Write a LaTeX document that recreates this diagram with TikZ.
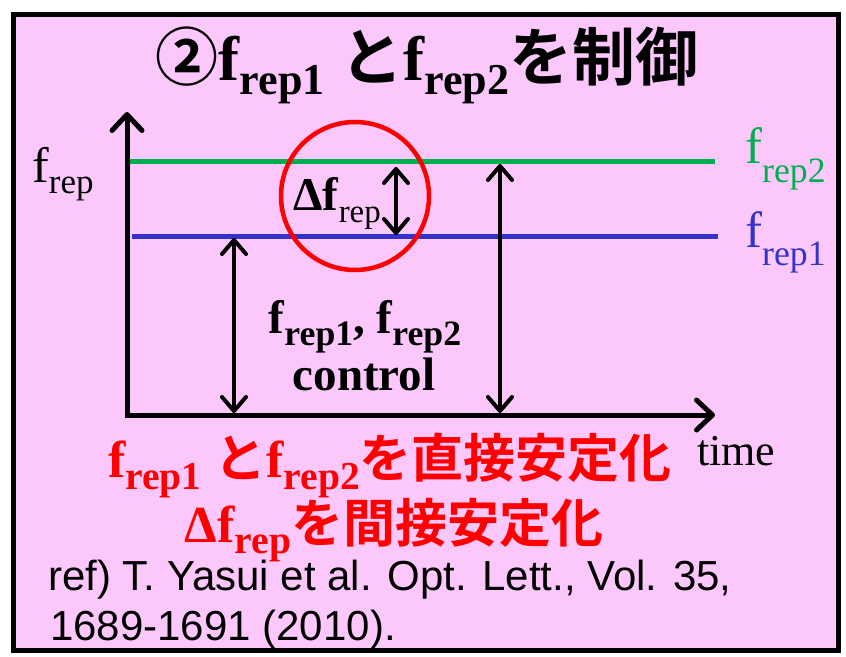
\documentclass[tikz,border=0pt]{standalone}
\usepackage{fontspec}
\setmainfont{Liberation Serif}
\newfontfamily\jpfont{Noto Sans CJK JP}[BoldFont=* Bold]
\newfontfamily\reffont{Liberation Sans}
\usetikzlibrary{arrows.meta}
\definecolor{slidepink}{RGB}{252,200,252}
\definecolor{repgreen}{RGB}{0,176,80}
\definecolor{repblue}{RGB}{51,51,204}
% subscript: optional drop (em), then text
\newcommand\rsub[2][0.25]{\raisebox{-#1em}{\scalebox{0.7}{#2}}}
\newcommand\bsub[2][0.25]{\raisebox{-#1em}{\scalebox{0.76}{#2}}}

\begin{document}
\begin{tikzpicture}[x=1pt, y=-1pt,
  axis/.style={line width=5pt, {Straight Barb[length=16pt,width=30pt,round]}-{Straight Barb[length=16pt,width=30pt,round]}},
  span/.style={line width=4pt, {Straight Barb[length=14pt,width=24pt,round]}-{Straight Barb[length=14pt,width=24pt,round]}},
  level/.style={line width=5pt},
  lbl/.style={inner sep=0pt, anchor=base},
]
  \useasboundingbox (0,0) rectangle (846,656);
  \fill[white] (0,0) rectangle (846,656);
  \draw[line width=5pt, fill=slidepink] (13,14) rectangle (838,650);

  % Title
  \node[lbl, font=\fontsize{63}{70}\selectfont\bfseries] (title) at (427,80)
    {{\jpfont ②}f\rsub[0.23]{rep1} {\jpfont と}f\rsub[0.23]{rep2}{\jpfont を制御}};

  % Axes and levels
  \coordinate (o) at (127,415);
  \coordinate (ytip) at (127,112);
  \coordinate (xtip) at (715,415);
  \coordinate (g0) at (127,161);
  \coordinate (g1) at (715,161);
  \coordinate (b0) at (132,236);
  \coordinate (b1) at (718,236);
  \draw[level, repgreen] (g0) -- (g1);
  \draw[level, repblue] (b0) -- (b1);
  \draw[axis] (ytip) -- (o) -- (xtip);

  % Level labels
  \node[lbl, anchor=base west, font=\fontsize{50}{60}\selectfont] (ylab) at (32,182) {f\rsub[0.22]{rep}};
  \node[lbl, anchor=base west, font=\fontsize{51}{60}\selectfont, text=repgreen] (lab2) at (745,163) {f\rsub[0.38]{rep2}};
  \node[lbl, anchor=base west, font=\fontsize{51}{60}\selectfont, text=repblue] (lab1) at (745,247) {f\rsub[0.36]{rep1}};
  \node[lbl, anchor=base west, font=\fontsize{44}{50}\selectfont] (timelab) at (697,465) {time};

  % Difference
  \node[draw=red, line width=4.5pt, circle, minimum size=148pt, inner sep=0pt] (ring) at (355,196) {};
  \node[lbl, anchor=base west, font=\fontsize{47}{55}\selectfont] (dlab) at (293,210) {\textbf{Δf}\rsub[0.26]{rep}};
  \coordinate (dtop) at (396,167);
  \coordinate (dbot) at (396,235);
  \draw[span] (dtop) -- (dbot);

  % Control spans
  \coordinate (s1top) at (234,238);
  \coordinate (s1bot) at (234,413);
  \coordinate (s2top) at (500,164);
  \coordinate (s2bot) at (500,413);
  \draw[span] (s1top) -- (s1bot);
  \draw[span] (s2top) -- (s2bot);
  \node[lbl, font=\fontsize{47}{55}\selectfont\bfseries] (ctrl1) at (365,333) {f\bsub[0.26]{rep1}, f\bsub[0.26]{rep2}};
  \node[lbl, font=\fontsize{47}{55}\selectfont\bfseries] (ctrl2) at (364,390) {control};

  % Notes
  \node[lbl, font=\fontsize{52}{58}\selectfont\bfseries, text=red] (note1) at (390,477)
    {f\bsub[0.24]{rep1} {\jpfont と}f\bsub[0.24]{rep2}{\jpfont を直接安定化}};
  \node[lbl, font=\fontsize{52}{58}\selectfont\bfseries, text=red] (note2) at (394,542)
    {Δf\bsub[0.22]{rep}{\jpfont を間接安定化}};

  % Reference
  \node[lbl, anchor=base west, font=\reffont\fontsize{42}{46}\selectfont] (ref1) at (48,590) {ref) T. Yasui et al. Opt. Lett., Vol. 35,};
  \node[lbl, anchor=base west, font=\reffont\fontsize{42}{46}\selectfont] (ref2) at (50,640) {1689-1691 (2010).};
\end{tikzpicture}
\end{document}
